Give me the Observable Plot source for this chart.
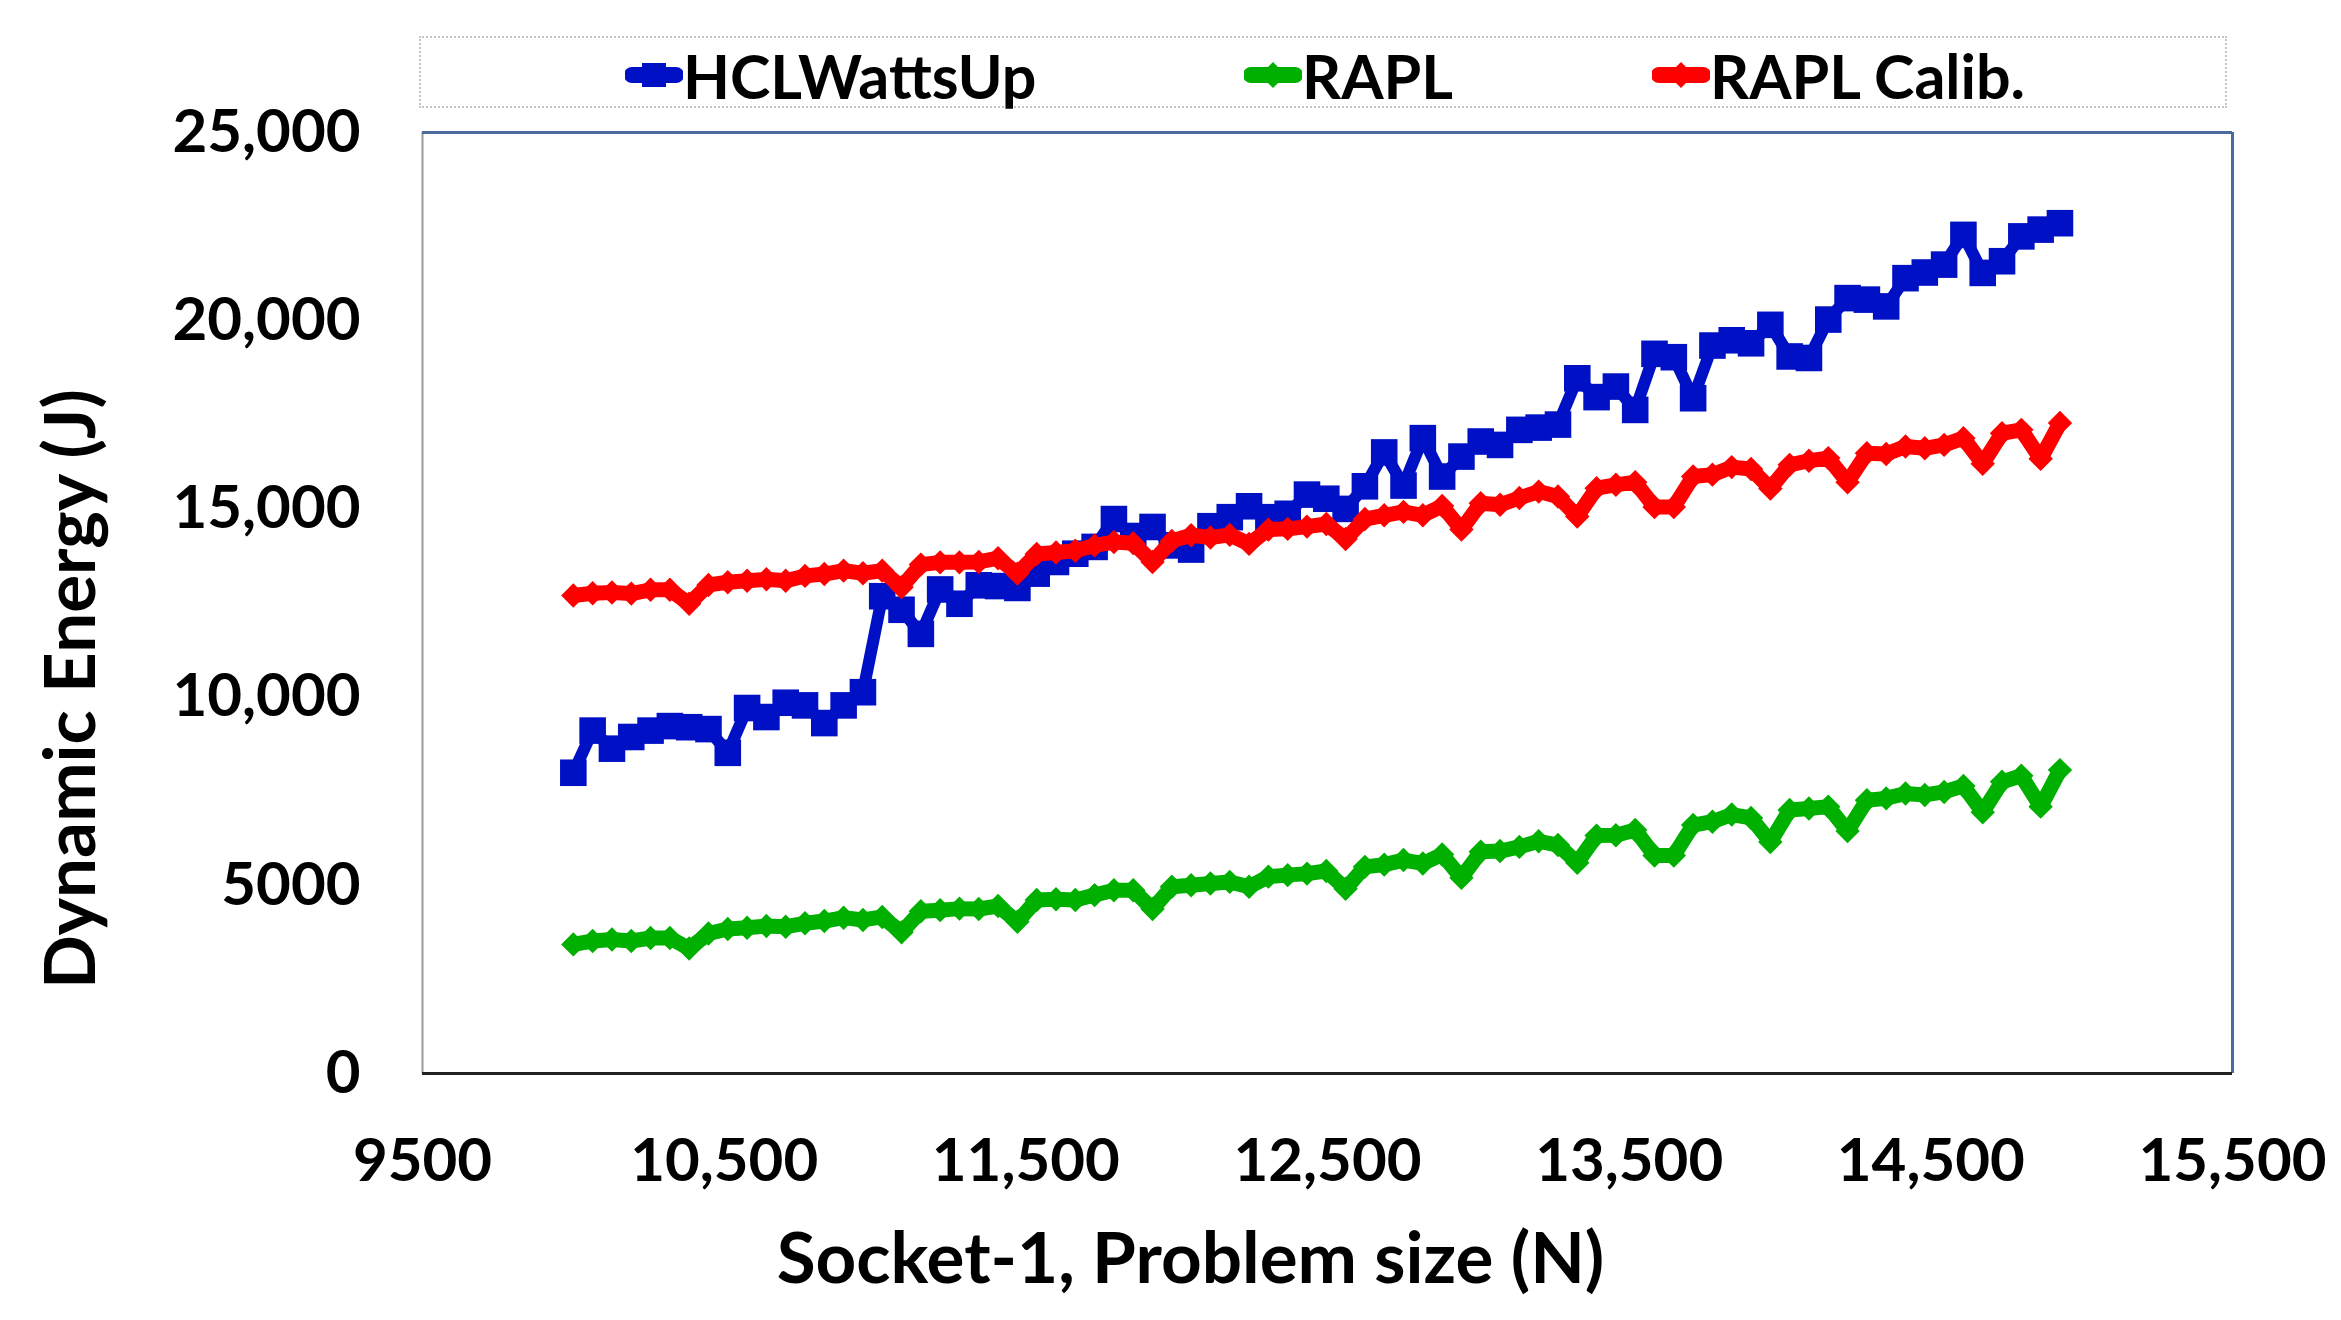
<!DOCTYPE html>
<html>
<head>
<meta charset="utf-8">
<script src="https://cdn.jsdelivr.net/npm/d3@7"></script>
<script src="https://cdn.jsdelivr.net/npm/@observablehq/plot@0.6"></script>
<style>
  body { margin: 0; background: #fff; font-family: Lato, "Open Sans", sans-serif; }
  #legend { position: relative; width: 2341px; height: 112px; }
  #legend .box { position: absolute; left: 419px; top: 36px; width: 1808px; height: 72px;
    border: 2px dotted #c4c4c4; box-sizing: border-box; }
  #legend .item { position: absolute; top: 40px; height: 70px; display: flex; align-items: center;
    font: bold 61px Lato, sans-serif; color: #000; white-space: nowrap; }
  #legend .item svg { display: block; margin-right: 0; }
  #chart svg text { font-weight: bold; }
</style>
</head>
<body>
<div id="legend"><div class="box"></div></div>
<div id="chart"></div>
<script>
// Problem size N (x values)
const sizes = [10000,10064,10128,10192,10256,10320,10384,10448,10512,10576,10640,10704,10768,10832,10896,10960,11024,11088,11152,11216,11280,11344,11408,11472,11536,11600,11664,11728,11792,11856,11920,11984,12048,12112,12176,12240,12304,12368,12432,12496,12560,12624,12688,12752,12816,12880,12944,13008,13072,13136,13200,13264,13328,13392,13456,13520,13584,13648,13712,13776,13840,13904,13968,14032,14096,14160,14224,14288,14352,14416,14480,14544,14608,14672,14736,14800,14864,14928];

// Dynamic energy (J)
const hclWattsUp = [7990,9110,8630,8940,9110,9230,9200,9150,8520,9710,
  9470,9850,9780,9310,9780,10130,12680,12320,11680,12860,
  12480,12970,12950,12900,13280,13590,13810,13990,14730,14280,
  14520,14030,13920,14540,14780,15070,14780,14870,15380,15270,
  15000,15600,16500,15620,16880,15860,16390,16790,16700,17100,
  17160,17240,18470,17970,18250,17630,19120,19030,17940,19340,
  19480,19400,19890,19050,19010,20030,20600,20560,20380,21130,
  21280,21490,22280,21270,21580,22240,22420,22590];

const rapl = [3430,3520,3560,3520,3600,3600,3320,3720,3840,3870,
  3920,3900,3990,4050,4140,4080,4160,3750,4310,4340,
  4380,4370,4450,4030,4610,4630,4610,4740,4870,4870,
  4370,4960,5000,5050,5090,4960,5230,5270,5310,5380,
  4910,5490,5550,5670,5580,5820,5200,5890,5910,6020,
  6170,6070,5600,6320,6330,6470,5790,5790,6600,6690,
  6880,6790,6150,7000,7040,7090,6440,7260,7310,7440,
  7400,7480,7640,6940,7750,7910,7090,8060];

const raplCalib = [12700,12760,12780,12750,12850,12850,12480,12980,13050,13090,
  13130,13090,13220,13270,13360,13290,13360,12920,13520,13580,
  13580,13590,13690,13280,13800,13840,13890,14030,14120,14090,
  13590,14150,14300,14240,14310,14070,14450,14470,14530,14600,
  14200,14730,14830,14920,14830,15080,14450,15150,15110,15290,
  15460,15330,14800,15550,15640,15710,15050,15050,15860,15910,
  16110,16060,15540,16170,16280,16350,15710,16480,16460,16660,
  16610,16700,16880,16200,17010,17100,16330,17280];

const seriesNames = ["HCLWattsUp", "RAPL", "RAPL Calib."];
const seriesColors = ["#0010c4", "#00b000", "#ff0000"];
const seriesValues = [hclWattsUp, rapl, raplCalib];

const xTicks = [9500, 10500, 11500, 12500, 13500, 14500, 15500];
const xTickLabels = ["9500", "10,500", "11,500", "12,500", "13,500", "14,500", "15,500"];
const yTicks = [0, 5000, 10000, 15000, 20000, 25000];
const yTickLabels = ["0", "5000", "10,000", "15,000", "20,000", "25,000"];
const xTitle = "Socket-1, Problem size (N)";
const yTitle = "Dynamic Energy (J)";

// styles per series (visual only)
const styleFor = [
  {lw: 12, symbol: "square", r: 15},
  {lw: 15, symbol: "diamond2", r: 11},
  {lw: 15, symbol: "diamond2", r: 11}
];

const xLab = new Map(xTicks.map((t, i) => [t, xTickLabels[i]]));
const yLab = new Map(yTicks.map((t, i) => [t, yTickLabels[i]]));

const seriesMarks = [];
seriesValues.forEach((vals, s) => {
  const data = sizes.map((n, i) => ({n, e: vals[i]}));
  const st = styleFor[s];
  seriesMarks.push(Plot.line(data, {x: "n", y: "e", stroke: seriesColors[s], strokeWidth: st.lw,
    strokeLinejoin: "round", strokeLinecap: "round"}));
  seriesMarks.push(Plot.dot(data, {x: "n", y: "e", symbol: () => st.symbol, r: st.r,
    fill: seriesColors[s], stroke: "none"}));
});

const chart = Plot.plot({
  width: 2341,
  height: 1208,
  marginLeft: 422,
  marginRight: 109,
  marginTop: 20,
  marginBottom: 247,
  style: {fontFamily: "Lato, sans-serif", background: "white", overflow: "visible", color: "#000"},
  x: {domain: [9500, 15500]},
  y: {domain: [0, 25000]},
  marks: [
    Plot.ruleX([9500], {stroke: "#9a9a9a", strokeWidth: 2}),
    Plot.ruleY([25000], {stroke: "#4a6aa0", strokeWidth: 3}),
    Plot.ruleX([15500], {stroke: "#4a6aa0", strokeWidth: 3}),
    Plot.ruleY([0], {stroke: "#222", strokeWidth: 3}),
    Plot.axisX(xTicks, {tickSize: 0, tickPadding: 65, tickFormat: d => xLab.get(d),
      fontSize: 60, fontWeight: "bold", fill: "#000", label: null}),
    Plot.axisY(yTicks, {tickSize: 0, tickPadding: 62, tickFormat: d => yLab.get(d),
      fontSize: 60, fontWeight: "bold", fill: "#000", label: null}),
    Plot.text([xTitle], {frameAnchor: "bottom", textAnchor: "middle", dx: -137, dy: 209, fontSize: 71,
      fontWeight: "bold", fill: "#000"}),
    Plot.text([yTitle], {frameAnchor: "left", textAnchor: "middle", dx: -350, dy: 86, rotate: -90, fontSize: 71,
      fontWeight: "bold", fill: "#000"}),
    ...seriesMarks
  ]
});
document.getElementById("chart").appendChild(chart);

// Legend (HTML above the SVG)
const legendLeft = [625, 1244, 1652];
const legend = document.getElementById("legend");
seriesNames.forEach((name, s) => {
  const item = document.createElement("div");
  item.className = "item";
  item.style.left = legendLeft[s] + "px";
  const c = seriesColors[s];
  const sym = styleFor[s].symbol === "square"
    ? `<rect x="17" y="4" width="24" height="24" fill="${c}"/>`
    : `<polygon points="29,3 42,16 29,29 16,16" fill="${c}"/>`;
  item.innerHTML = `<svg width="58" height="32" viewBox="0 0 58 32">
    <line x1="7" y1="16" x2="51" y2="16" stroke="${c}" stroke-width="16" stroke-linecap="round"/>${sym}</svg>
    <span>${name}</span>`;
  legend.appendChild(item);
});
</script>
</body>
</html>
